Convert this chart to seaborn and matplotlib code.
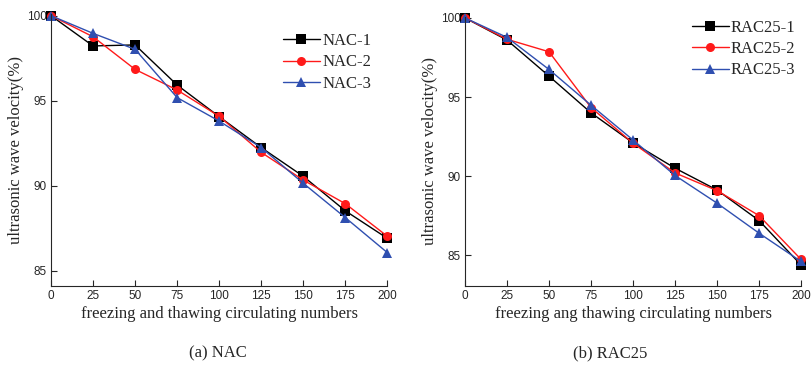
# -*- coding: utf-8 -*-
"""Ultrasonic wave velocity vs freeze-thaw cycles — NAC / RAC25"""
import numpy as np
import pandas as pd
import matplotlib
matplotlib.use('Agg')
import matplotlib.pyplot as plt
import seaborn as sns

sns.set_style("ticks")
plt.rcParams['font.family'] = ['Liberation Serif', 'DejaVu Serif']

# ── data ────────────────────────────────────────────────
cycles = [0, 25, 50, 75, 100, 125, 150, 175, 200]

nac_1 = [100, 98.22, 98.28, 95.92, 94.06, 92.24, 90.55, 88.52, 86.90]
nac_2 = [100, 98.76, 96.84, 95.63, 94.08, 91.96, 90.33, 88.94, 87.02]
nac_3 = [100, 98.96, 98.02, 95.18, 93.80, 92.24, 90.14, 88.12, 86.06]

rac_1 = [100, 98.60, 96.32, 94.00, 92.10, 90.50, 89.12, 87.19, 84.38]
rac_2 = [100, 98.65, 97.86, 94.33, 92.08, 90.20, 89.08, 87.50, 84.73]
rac_3 = [100, 98.77, 96.74, 94.48, 92.28, 90.04, 88.29, 86.39, 84.60]

yticks = [85, 90, 95, 100]
xticks = [0, 25, 50, 75, 100, 125, 150, 175, 200]

colors = ['#000000', '#ff1a1a', '#2f4fb0']
markers = ['s', 'o', '^']


def long_df(names, series):
    rows = []
    for name, vals in zip(names, series):
        for c, v in zip(cycles, vals):
            rows.append({'cycles': c, 'velocity': v, 'specimen': name})
    return pd.DataFrame(rows)


df_nac = long_df(['NAC-1', 'NAC-2', 'NAC-3'], [nac_1, nac_2, nac_3])
df_rac = long_df(['RAC25-1', 'RAC25-2', 'RAC25-3'], [rac_1, rac_2, rac_3])

fig = plt.figure(figsize=(8.12, 3.66), dpi=100)
ax1 = fig.add_axes([0.0628, 0.2186, 0.4143, 0.7432])
ax2 = fig.add_axes([0.5727, 0.2186, 0.4138, 0.7350])


def draw(ax, df, ylim, xlabel, caption, cx, leg_anchor):
    names = df['specimen'].unique().tolist()
    sns.lineplot(data=df, x='cycles', y='velocity', hue='specimen', style='specimen',
                 palette=dict(zip(names, colors)), markers=dict(zip(names, markers)),
                 dashes=False, markersize=6.5, linewidth=1.0, markeredgewidth=0,
                 ax=ax, clip_on=False)
    ax.set_xlim(0, 200)
    ax.set_ylim(*ylim)
    ax.set_xticks(xticks)
    ax.set_yticks(yticks)
    ax.tick_params(direction='in', length=4, width=0.8, labelsize=8.5, pad=3)
    for lab in ax.get_xticklabels() + ax.get_yticklabels():
        lab.set_family(['Liberation Sans Narrow', 'Liberation Sans', 'DejaVu Sans'])
    sns.despine(ax=ax)
    for s in ['left', 'bottom']:
        ax.spines[s].set_linewidth(0.8)
    ax.set_xlabel(xlabel, fontsize=12, labelpad=3)
    ax.set_ylabel('ultrasonic wave velocity(%)', fontsize=12, labelpad=2)
    ax.legend(title=None, loc='upper left', bbox_to_anchor=leg_anchor,
              frameon=False, fontsize=12, handlelength=2.2,
              handletextpad=0.15, labelspacing=0.32, borderaxespad=0,
              borderpad=0)
    fig.text(cx, 0.035, caption, ha='center', va='center', fontsize=12)


draw(ax1, df_nac, (84.1, 100.1), 'freezing and thawing circulating numbers',
     '(a) NAC', 0.268, (0.69, 0.93))
draw(ax2, df_rac, (83.05, 100.06), 'freezing ang thawing circulating numbers',
     '(b) RAC25', 0.751, (0.675, 0.99))

plt.savefig('out.png', dpi=100)
plt.close()
